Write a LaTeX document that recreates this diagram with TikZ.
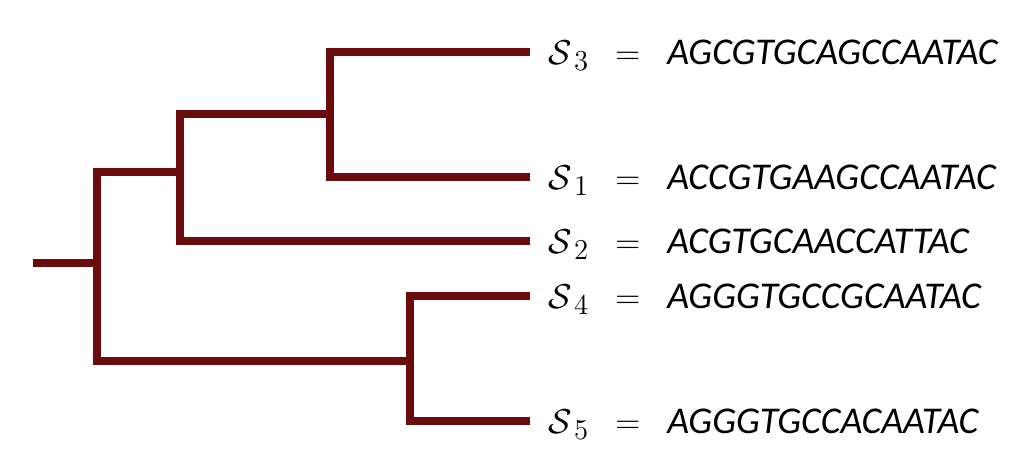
\documentclass[tikz,border=0pt]{standalone}
\usepackage{fontspec}
\usepackage{amsmath}
\usepackage{tikz}
\usetikzlibrary{positioning}
\newfontfamily\seqfont{Carlito}
\definecolor{ramo}{HTML}{6A0C0C}
\newcommand{\seqrow}[2]{\makebox[33.5pt][l]{$\mathcal{S}_{\,#1}$}\makebox[26pt][l]{$=$}{\seqfont\itshape #2}}

\begin{document}
\begin{tikzpicture}[
  x=0.5pt,y=-0.5pt,
  ramo/.style={draw=ramo,line width=4pt,line join=miter},
  folha/.style={anchor=west,inner xsep=9pt,inner ysep=0pt,
                text height=14pt,text depth=2pt,
                font=\fontsize{18.9}{21}\selectfont}
]
  \useasboundingbox (0,0) rectangle (1018,461);
  % leaves
  \node[folha] (s3) at (530,52) {\seqrow{3}{AGCGTGCAGCCAATAC}};
  \node[folha] (s1) at (530,177) {\seqrow{1}{ACCGTGAAGCCAATAC}};
  \node[folha] (s2) at (530,241) {\seqrow{2}{ACGTGCAACCATTAC}};
  \node[folha] (s4) at (530,296) {\seqrow{4}{AGGGTGCCGCAATAC}};
  \node[folha] (s5) at (530,421) {\seqrow{5}{AGGGTGCCACAATAC}};
  % inner nodes
  \coordinate (raiz) at (33,263);
  \coordinate (n0) at (97,263);
  \coordinate (nA) at (180,172);
  \coordinate (nB) at (330,114);
  \coordinate (nC) at (410,361);
  \draw[ramo] (raiz) -- (n0);
  \draw[ramo] (n0) |- (nA);
  \draw[ramo] (n0) |- (nC);
  \draw[ramo] (nA) |- (nB);
  \draw[ramo] (nA) |- (s2.west);
  \draw[ramo] (nB) |- (s3.west);
  \draw[ramo] (nB) |- (s1.west);
  \draw[ramo] (nC) |- (s4.west);
  \draw[ramo] (nC) |- (s5.west);
\end{tikzpicture}
\end{document}
